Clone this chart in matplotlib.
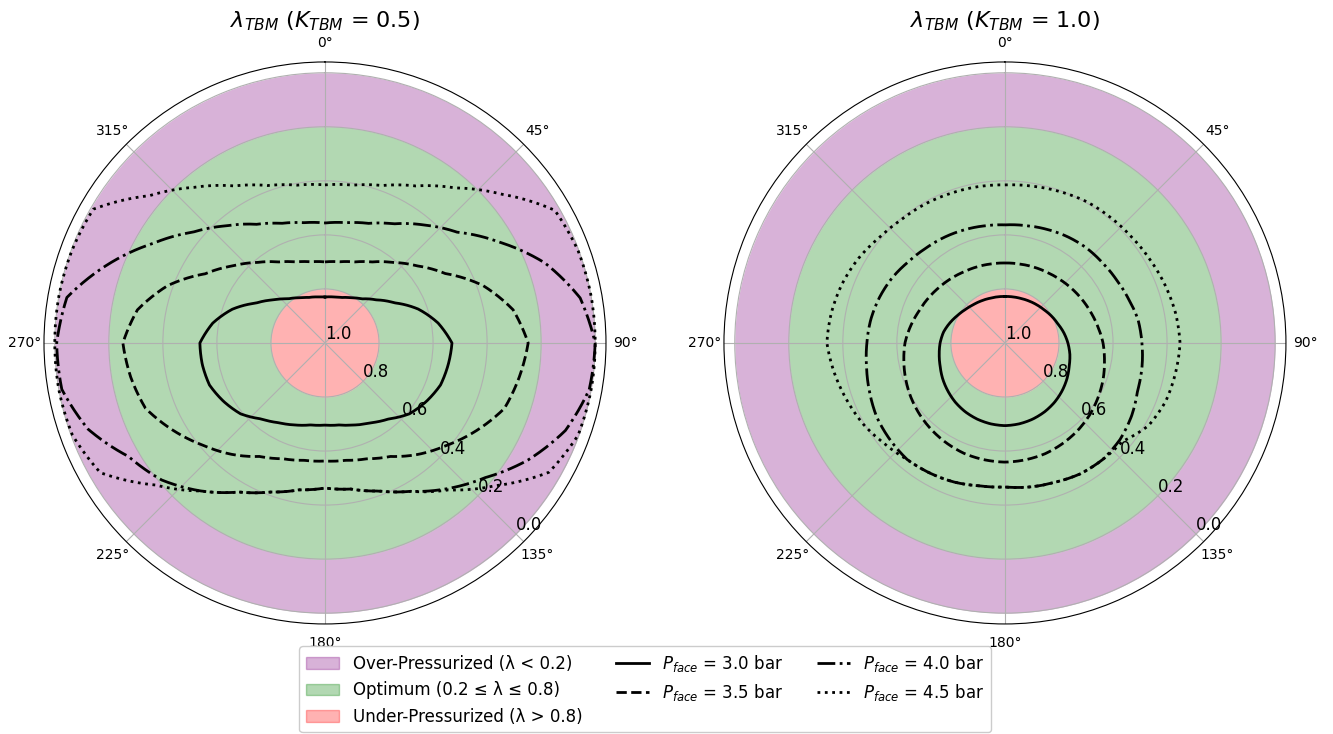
import numpy as np
import matplotlib
matplotlib.use("Agg")
import matplotlib.pyplot as plt
from matplotlib.patches import Patch

# sampling angles of the computed lambda curves (degrees, clockwise from crown)
theta_deg = [0, 10, 20, 30, 40, 50, 60, 70, 80, 90, 100, 110,
             120, 130, 140, 150, 160, 170, 180, 190, 200, 210, 220, 230,
             240, 250, 260, 270, 280, 290, 300, 310, 320, 330, 340, 350]

pressures = ["3.0", "3.5", "4.0", "4.5"]
line_styles = ["-", "--", "-.", ":"]

# lambda_TBM for K_TBM = 0.5
lam_k05 = {
    "3.0": [0.830, 0.827, 0.821, 0.807, 0.787, 0.752, 0.703, 0.633, 0.575, 0.530, 0.537, 0.545,
            0.567, 0.592, 0.633, 0.659, 0.677, 0.692, 0.696, 0.692, 0.677, 0.659, 0.633, 0.592,
            0.567, 0.545, 0.539, 0.537, 0.578, 0.635, 0.705, 0.752, 0.787, 0.807, 0.821, 0.827],
    "3.5": [0.700, 0.695, 0.681, 0.654, 0.611, 0.556, 0.486, 0.378, 0.293, 0.248, 0.270, 0.293,
            0.352, 0.411, 0.462, 0.515, 0.544, 0.559, 0.563, 0.559, 0.544, 0.515, 0.462, 0.411,
            0.352, 0.293, 0.270, 0.252, 0.295, 0.380, 0.488, 0.556, 0.611, 0.654, 0.681, 0.695],
    "4.0": [0.556, 0.548, 0.529, 0.491, 0.430, 0.362, 0.254, 0.134, 0.041, 0.000, 0.007, 0.053,
            0.133, 0.225, 0.296, 0.366, 0.417, 0.451, 0.463, 0.448, 0.413, 0.363, 0.285, 0.211,
            0.160, 0.067, 0.011, 0.007, 0.030, 0.147, 0.264, 0.362, 0.434, 0.493, 0.529, 0.548],
    "4.5": [0.415, 0.407, 0.380, 0.329, 0.251, 0.144, 0.018, 0.003, 0.000, 0.000, 0.000, 0.003,
            0.043, 0.178, 0.290, 0.366, 0.417, 0.451, 0.463, 0.448, 0.413, 0.363, 0.285, 0.182,
            0.040, 0.005, 0.000, 0.000, 0.000, 0.003, 0.010, 0.152, 0.248, 0.329, 0.380, 0.407],
}

# lambda_TBM for K_TBM = 1.0
lam_k10 = {
    "3.0": [0.828, 0.827, 0.825, 0.821, 0.816, 0.810, 0.801, 0.792, 0.779, 0.767, 0.756, 0.747,
            0.735, 0.724, 0.714, 0.706, 0.700, 0.696, 0.694, 0.696, 0.700, 0.706, 0.714, 0.724,
            0.734, 0.745, 0.753, 0.760, 0.769, 0.783, 0.797, 0.808, 0.816, 0.821, 0.825, 0.827],
    "3.5": [0.704, 0.703, 0.700, 0.696, 0.690, 0.682, 0.673, 0.663, 0.651, 0.637, 0.626, 0.613,
            0.601, 0.589, 0.579, 0.571, 0.564, 0.561, 0.559, 0.561, 0.564, 0.571, 0.579, 0.588,
            0.598, 0.609, 0.620, 0.630, 0.645, 0.660, 0.671, 0.681, 0.689, 0.696, 0.700, 0.703],
    "4.0": [0.563, 0.559, 0.552, 0.544, 0.537, 0.533, 0.526, 0.515, 0.500, 0.493, 0.485, 0.478,
            0.459, 0.444, 0.437, 0.441, 0.452, 0.459, 0.467, 0.463, 0.452, 0.444, 0.437, 0.444,
            0.452, 0.467, 0.480, 0.489, 0.496, 0.506, 0.518, 0.533, 0.543, 0.549, 0.555, 0.560],
    "4.5": [0.415, 0.411, 0.404, 0.396, 0.393, 0.389, 0.381, 0.370, 0.359, 0.352, 0.359, 0.367,
            0.387, 0.433, 0.437, 0.441, 0.452, 0.459, 0.467, 0.463, 0.452, 0.444, 0.437, 0.419,
            0.396, 0.378, 0.359, 0.341, 0.348, 0.359, 0.374, 0.393, 0.404, 0.407, 0.411, 0.413],
}

k_values = ["0.5", "1.0"]
zone_bounds = [(0.0, 0.2), (0.2, 0.8), (0.8, 1.0)]
zone_colors = ["purple", "green", "red"]
zone_labels = ["Over-Pressurized (λ < 0.2)",
               "Optimum (0.2 ≤ λ ≤ 0.8)",
               "Under-Pressurized (λ > 0.8)"]


def draw_panel(ax, lam, k):
    full = np.linspace(0, 2 * np.pi, 361)
    for (lo, hi), c in zip(zone_bounds, zone_colors):
        ax.fill_between(full, lo, hi, color=c, alpha=0.3, linewidth=0)

    th = np.deg2rad(theta_deg + [360])
    for p, ls in zip(pressures, line_styles):
        vals = lam[p] + [lam[p][0]]
        line, = ax.plot(th, vals, color="black", linestyle=ls, linewidth=2)
        # follow the polar arc between samples instead of straight chords
        line.get_path()._interpolation_steps = 30

    ax.set_theta_zero_location("N")
    ax.set_theta_direction(-1)
    ax.set_ylim(1.0, -0.04)
    ax.set_yticks([0.0, 0.2, 0.4, 0.6, 0.8, 1.0])
    ax.set_yticklabels(["0.0", "0.2", "0.4", "0.6", "0.8", "1.0"], fontsize=12)
    ax.set_rlabel_position(135)
    ax.tick_params(axis="x", labelsize=10)
    ax.grid(True, color="#b0b0b0", linewidth=0.8)
    ax.set_title(f"$\\lambda_{{TBM}}$ ($K_{{TBM}}$ = {k})", fontsize=16)


fig = plt.figure(figsize=(13.33, 7.34), dpi=100)
ax1 = fig.add_axes([0.0330, 0.1499, 0.4216, 0.7657], projection="polar")
ax2 = fig.add_axes([0.5431, 0.1499, 0.4216, 0.7657], projection="polar")

draw_panel(ax1, lam_k05, k_values[0])
draw_panel(ax2, lam_k10, k_values[1])

handles = [Patch(facecolor=c, edgecolor=c, alpha=0.3, label=lab)
           for c, lab in zip(zone_colors, zone_labels)]
handles += [plt.Line2D([], [], color="black", linestyle=ls, linewidth=2,
                       label=f"$P_{{face}}$ = {p} bar")
            for p, ls in zip(pressures, line_styles)]
fig.legend(handles=handles, loc="lower center", bbox_to_anchor=(0.484, -0.009),
           ncol=3, fontsize=12, framealpha=1.0)

fig.savefig("out.png", dpi=100)
plt.close(fig)
